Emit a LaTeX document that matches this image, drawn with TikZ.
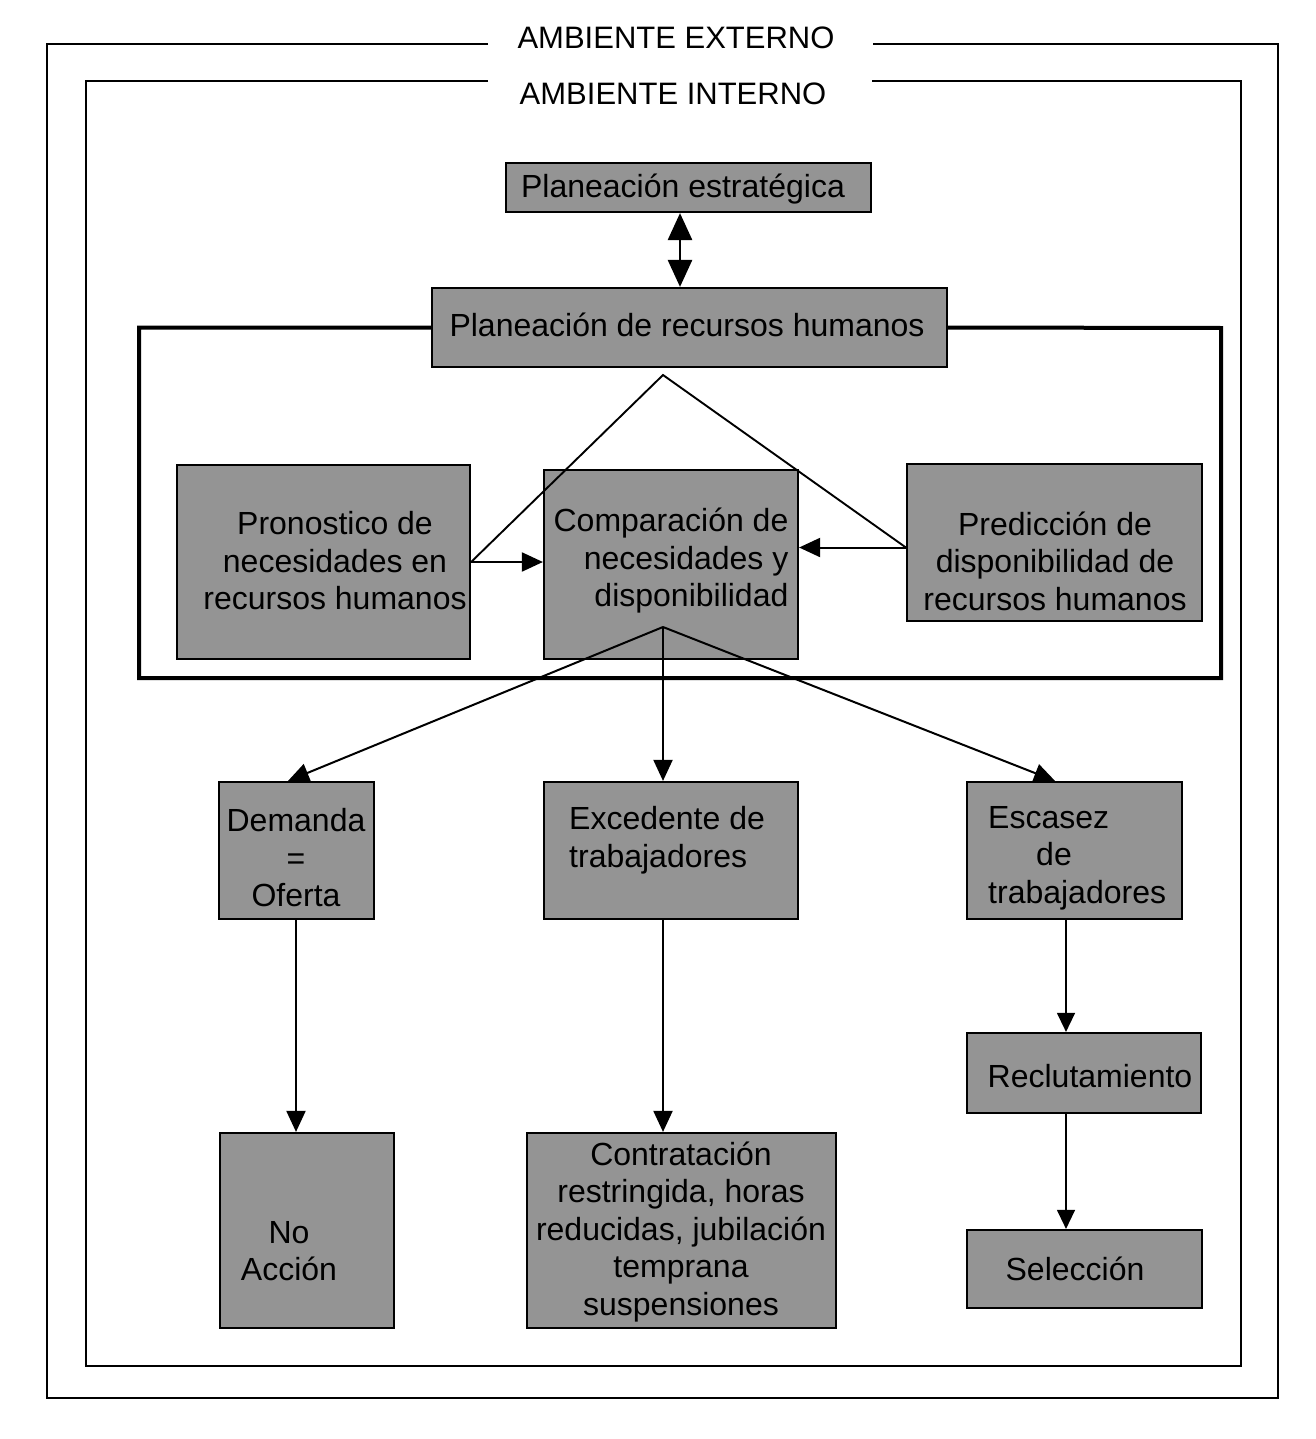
\documentclass[tikz,border=0pt]{standalone}
\usepackage{fontspec}
\setmainfont{Liberation Sans}
\usetikzlibrary{arrows.meta}
\begin{document}
\begin{tikzpicture}[x=1pt,y=-1pt,
  box/.style={draw=black, line width=2.2pt, fill=black!42, inner sep=0pt},
  txt/.style={font=\fontsize{32}{37.5}\selectfont, inner sep=0pt, align=center},
  ttl/.style={font=\fontsize{31}{35}\selectfont, inner sep=0pt},
  frm/.style={line width=2.2pt},
  pfrm/.style={line width=4pt},
  ln/.style={line width=1.9pt},
  arr/.style={line width=2pt, -{Triangle[length=21pt,width=19pt]}},
  thinarr/.style={line width=1.3pt, -{Triangle[length=19pt,width=18pt]}},
  dbl/.style={line width=2.8pt, {Triangle[length=27pt,width=24pt]}-{Triangle[length=27pt,width=24pt]}}
]
\fill[white] (0,0) rectangle (1315,1439);
\useasboundingbox (0,0) rectangle (1315,1439);

% titles
\node[ttl] (ext) at (676,38) {AMBIENTE EXTERNO};
\node[ttl] (int) at (673,94) {AMBIENTE INTERNO};

% outer and inner frames
\draw[frm] (488,44) -- (47,44) -- (47,1398) -- (1278,1398) -- (1278,44) -- (873,44);
\draw[frm] (488,81) -- (86,81) -- (86,1366) -- (1241,1366) -- (1241,81) -- (872,81);

% boxes
\node[box, minimum width=365pt, minimum height=49pt] (pe) at (688.5,187.5) {};
\node[box, minimum width=515pt, minimum height=79pt] (prh) at (689.5,327.5) {};
\draw[pfrm] (prh.west) -| (139,678) -| (1221,328) -- (prh.east);
\node[box, minimum width=515pt, minimum height=79pt] at (prh.center) {};
\node[box, minimum width=293pt, minimum height=194pt] (pron) at (323.5,562) {};
\node[box, minimum width=254pt, minimum height=189pt] (comp) at (671,564.5) {};
\node[box, minimum width=295pt, minimum height=157pt] (pred) at (1054.5,542.5) {};
\node[box, minimum width=155pt, minimum height=137pt] (dem) at (296.5,850.5) {};
\node[box, minimum width=254pt, minimum height=137pt] (exc) at (671,850.5) {};
\node[box, minimum width=215pt, minimum height=137pt] (esc) at (1074.5,850.5) {};
\node[box, minimum width=234pt, minimum height=80pt] (rec) at (1084,1073) {};
\node[box, minimum width=235pt, minimum height=78pt] (sel) at (1084.5,1269) {};
\node[box, minimum width=174pt, minimum height=195pt] (no) at (307,1230.5) {};
\node[box, minimum width=309pt, minimum height=195pt] (con) at (681.5,1230.5) {};

% texts
\node[txt] (peT) at (683,189) {Planeación estratégica};
\node[txt] (prhT) at (687,325) {Planeación de recursos humanos};
\node[txt] (pronT) at (335,561) {Pronostico de\\necesidades en\\recursos humanos};
\node[txt, align=right] (compT) at (671,561) {Comparación de\\necesidades y\\disponibilidad};
\node[txt] (predT) at (1055,561) {Predicción de\\disponibilidad de\\recursos humanos};
\node[txt] (demT) at (296,858) {Demanda\\=\\Oferta};
\node[txt, align=left, anchor=west] (excT) at (569,840) {Excedente de\\trabajadores};
\node[txt, align=left, anchor=west] (escT) at (988,858) {Escasez\\\hspace*{48pt}de\\trabajadores};
\node[txt] (recT) at (1090,1076) {Reclutamiento};
\node[txt] (selT) at (1075,1269) {Selección};
\node[txt] (noT) at (289,1251) {No\\Acción};
\node[txt] (conT) at (681,1232) {Contratación\\restringida, horas\\reducidas, jubilación\\temprana\\suspensiones};

% helper coordinates
\coordinate (apex) at (663,375);
\coordinate (br) at (663,627);
\coordinate (xA) at (680,0);
\coordinate (xL) at (288,0);
\coordinate (xR) at (1055,0);
\coordinate (xD) at (296,0);
\coordinate (xS) at (1066,0);
\coordinate (pa) at ([yshift=-5pt]pred.west);

% connectors
\draw[dbl] (pe.south -| xA) -- (prh.north -| xA);
\draw[ln] (pron.east) -- (apex) -- (pa);
\draw[arr] (pron.east) -- (comp.west |- pron.east);
\draw[arr] (pa) -- (comp.east |- pa);
\draw[arr] (br) -- (dem.north -| xL);
\draw[arr] (br) -- (exc.north -| br);
\draw[arr] (br) -- (esc.north -| xR);
\draw[arr] (dem.south -| xD) -- (no.north -| xD);
\draw[arr] (exc.south -| br) -- (con.north -| br);
\draw[thinarr] (esc.south -| xS) -- (rec.north -| xS);
\draw[thinarr] (rec.south -| xS) -- (sel.north -| xS);
\end{tikzpicture}
\end{document}
